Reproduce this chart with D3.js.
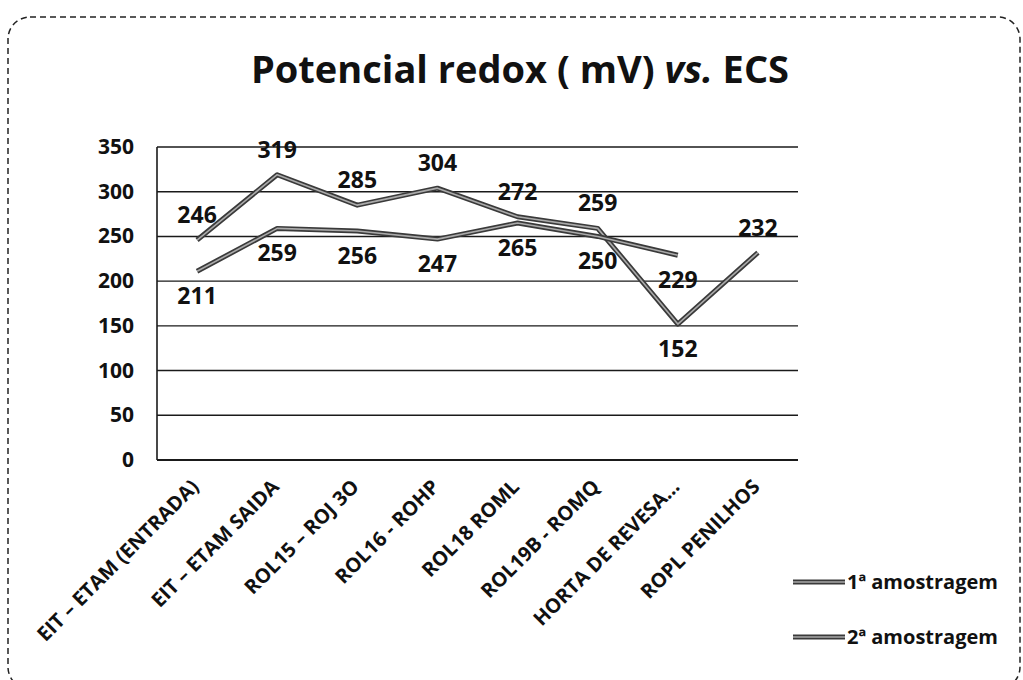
<!DOCTYPE html>
<html lang="pt">
<head>
    <meta charset="UTF-8">
    <title>Potencial redox ( mV) vs. ECS</title>
    <script src="https://d3js.org/d3.v7.min.js"></script>
    <style>
        body {
            margin: 0;
            background-color: white;
            font-family: "Open Sans", Arial, sans-serif;
        }
        svg text {
            font-weight: bold;
            fill: #111;
        }
    </style>
</head>
<body>
    <div id="chart"></div>

    <script>
        // dados
        const categorias = [
            "EIT – ETAM (ENTRADA)", "EIT – ETAM SAIDA", "ROL15 – ROJ 3O", "ROL16 - ROHP",
            "ROL18 ROML", "ROL19B - ROMQ", "HORTA DE REVESA...", "ROPL PENILHOS"
        ];
        const amostragem1 = [246, 319, 285, 304, 272, 259, 152, 232];
        const amostragem2 = [211, 259, 256, 247, 265, 250, 229, null];
        const seriesNomes = ["1ª amostragem", "2ª amostragem"];
        const yTicks = [0, 50, 100, 150, 200, 250, 300, 350];

        const width = 1023, height = 680;
        const plot = { left: 157, right: 798, top: 147, bottom: 460 };

        const svg = d3.select("#chart")
            .append("svg")
            .attr("width", width)
            .attr("height", height);

        // moldura tracejada
        svg.append("rect")
            .attr("x", 8).attr("y", 17)
            .attr("width", 1012).attr("height", 672)
            .attr("rx", 22)
            .attr("fill", "none")
            .attr("stroke", "#222")
            .attr("stroke-width", 1.5)
            .attr("stroke-dasharray", "6,4");

        // título
        const titulo = svg.append("text")
            .attr("x", 520).attr("y", 83)
            .attr("text-anchor", "middle")
            .style("font-size", "38px");
        titulo.append("tspan").text("Potencial redox ( mV) ");
        titulo.append("tspan").style("font-style", "italic").text("vs.");
        titulo.append("tspan").text(" ECS");

        const x = d3.scaleBand()
            .domain(categorias)
            .range([plot.left, plot.right]);
        const y = d3.scaleLinear()
            .domain([0, 350])
            .range([plot.bottom, plot.top]);
        const cx = d => x(d) + x.bandwidth() / 2;

        // grelha
        svg.selectAll(".grid")
            .data(yTicks)
            .enter()
            .append("line")
            .attr("x1", plot.left).attr("x2", plot.right)
            .attr("y1", d => y(d)).attr("y2", d => y(d))
            .attr("stroke", "#1a1a1a")
            .attr("stroke-width", d => d === 0 ? 2 : 1.4);

        svg.append("line")
            .attr("x1", plot.left).attr("x2", plot.left)
            .attr("y1", plot.top).attr("y2", plot.bottom)
            .attr("stroke", "#1a1a1a")
            .attr("stroke-width", 1.6);

        // eixo y
        svg.selectAll(".ytick")
            .data(yTicks)
            .enter()
            .append("text")
            .attr("x", 134)
            .attr("y", d => y(d) + 7)
            .attr("text-anchor", "end")
            .style("font-size", "21px")
            .text(d => d);

        // eixo x
        svg.selectAll(".xtick")
            .data(categorias)
            .enter()
            .append("text")
            .attr("text-anchor", "end")
            .attr("transform", d => `translate(${cx(d) + 3},${plot.bottom + 28}) rotate(-45)`)
            .style("font-size", "20px")
            .text(d => d);

        // linhas
        const series = [amostragem1, amostragem2];
        const line = d3.line()
            .defined(d => d.v !== null)
            .x(d => cx(d.c))
            .y(d => y(d.v));

        series.forEach(vals => {
            const pts = vals.map((v, i) => ({ c: categorias[i], v: v }));
            svg.append("path")
                .datum(pts)
                .attr("d", line)
                .attr("fill", "none")
                .attr("stroke", "#3a3a3a")
                .attr("stroke-width", 5)
                .attr("stroke-linejoin", "round");
            svg.append("path")
                .datum(pts)
                .attr("d", line)
                .attr("fill", "none")
                .attr("stroke", "#aaa")
                .attr("stroke-width", 1.6)
                .attr("stroke-linejoin", "round");
        });

        // rótulos de dados
        series.forEach((vals, s) => {
            const outra = series[1 - s];
            vals.forEach((v, i) => {
                if (v === null) return;
                let acima = s === 0;
                if (s === 0 && outra[i] !== null && v < outra[i]) acima = false;
                svg.append("text")
                    .attr("x", cx(categorias[i]))
                    .attr("y", acima ? y(v) - 17 : y(v) + 33)
                    .attr("text-anchor", "middle")
                    .style("font-size", "23px")
                    .text(v);
            });
        });

        // legenda
        const legenda = svg.selectAll(".legenda")
            .data(seriesNomes)
            .enter()
            .append("g")
            .attr("transform", (d, i) => `translate(793,${582 + i * 55})`);
        legenda.append("line")
            .attr("x1", 0).attr("x2", 52)
            .attr("stroke", "#3a3a3a").attr("stroke-width", 5);
        legenda.append("line")
            .attr("x1", 0).attr("x2", 52)
            .attr("stroke", "#aaa").attr("stroke-width", 1.6);
        legenda.append("text")
            .attr("x", 54).attr("y", 7)
            .style("font-size", "20px")
            .text(d => d);
    </script>
</body>
</html>
